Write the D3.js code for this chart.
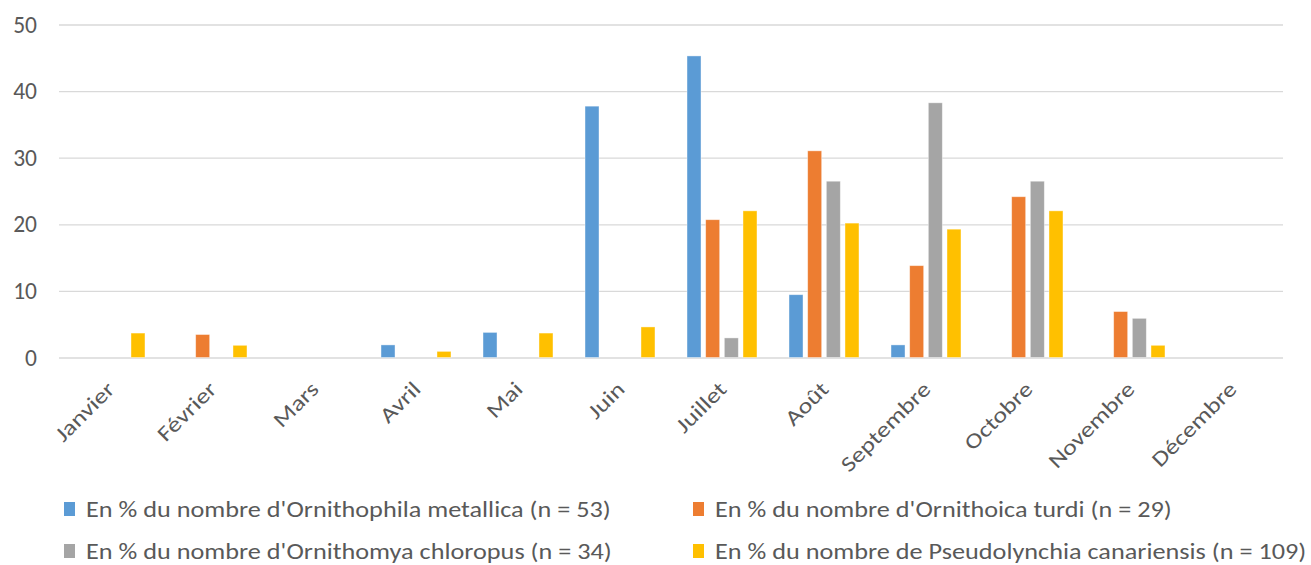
<!DOCTYPE html>
<html>
<head>
<meta charset="utf-8">
<script src="https://cdn.jsdelivr.net/npm/d3@7"></script>
<style>
  html, body { margin: 0; padding: 0; background: #fff; }
  svg { display: block; }
  text { font-family: Carlito, Calibri, Lato, "Open Sans", sans-serif; fill: #595959; }
</style>
</head>
<body>
<svg id="chart" width="1311" height="565"></svg>
<script>
// ---- data ----
const months = ["Janvier", "Février", "Mars", "Avril", "Mai", "Juin", "Juillet", "Août", "Septembre", "Octobre", "Novembre", "Décembre"];
const seriesNames = [
  "En % du nombre d'Ornithophila metallica (n = 53)",
  "En % du nombre d'Ornithoica turdi (n = 29)",
  "En % du nombre d'Ornithomya chloropus (n = 34)",
  "En % du nombre de Pseudolynchia canariensis (n = 109)"
];
const metallica   = [0, 0, 0, 1.89, 3.77, 37.74, 45.28, 9.43, 1.89, 0, 0, 0];
const turdi       = [0, 3.45, 0, 0, 0, 0, 20.69, 31.03, 13.79, 24.14, 6.90, 0];
const chloropus   = [0, 0, 0, 0, 0, 0, 2.94, 26.47, 38.24, 26.47, 5.88, 0];
const canariensis = [3.67, 1.83, 0, 0.92, 3.67, 4.59, 22.02, 20.18, 19.27, 22.02, 1.83, 0];
const yTicks = [0, 10, 20, 30, 40, 50];
const colors = ["#5B9BD5", "#ED7D31", "#A5A5A5", "#FFC000"];

const seriesValues = [metallica, turdi, chloropus, canariensis];

// ---- layout ----
const svg = d3.select("#chart");
const plot = { left: 59, right: 1283, top: 24.5, bottom: 357.5 };
const stretch = 1.22;
function widen(sel) {
  sel.each(function () {
    const w = this.getComputedTextLength();
    d3.select(this).attr("textLength", w * stretch).attr("lengthAdjust", "spacingAndGlyphs");
  });
}

const x = d3.scaleBand().domain(months).range([plot.left, plot.right])
  .paddingInner(0.314).paddingOuter(0.157);
const xs = d3.scaleBand().domain(d3.range(seriesNames.length)).range([0, x.bandwidth()])
  .paddingInner(0.25).paddingOuter(0);
const y = d3.scaleLinear().domain([0, 50]).range([plot.bottom, plot.top]);

// gridlines + y labels
const yAxis = d3.axisLeft(y).tickValues(yTicks).tickSize(-(plot.right - plot.left)).tickPadding(22);
const gy = svg.append("g").attr("transform", `translate(${plot.left},0)`).call(yAxis);
gy.select(".domain").remove();
gy.selectAll(".tick line").attr("stroke", "#D9D9D9").attr("stroke-width", 1.3);
gy.selectAll(".tick text").attr("font-size", 23.5).attr("fill", "#595959")
  .style("font-family", "Carlito, Calibri, Lato, sans-serif");

// bars
const data = [];
months.forEach((m, i) => seriesValues.forEach((vals, s) => data.push({ m, s, v: vals[i] })));
svg.append("g").selectAll("rect").data(data.filter(d => d.v > 0)).join("rect")
  .attr("x", d => x(d.m) + xs(d.s))
  .attr("width", xs.bandwidth())
  .attr("y", d => y(d.v))
  .attr("height", d => y(0) - y(d.v))
  .attr("fill", d => colors[d.s])
  .attr("stroke", "#fff").attr("stroke-opacity", 0.5).attr("stroke-width", 0.8);

// x axis labels (rotated)
const xAxis = d3.axisBottom(x).tickSize(0).tickPadding(0);
const gx = svg.append("g").attr("transform", `translate(0,${plot.bottom})`).call(xAxis);
gx.select(".domain").remove();
gx.selectAll(".tick text")
  .attr("font-size", 21.5)
  .attr("fill", "#595959")
  .style("font-family", "Carlito, Calibri, Lato, sans-serif")
  .attr("text-anchor", "end")
  .attr("dy", 0)
  .attr("y", 0)
  .attr("transform", "translate(6,33) rotate(-45)")
  .call(widen);

// legend
const legendPos = [[64, 509], [693, 509], [64, 551], [693, 551]];
const lg = svg.append("g").selectAll("g").data(seriesNames).join("g")
  .attr("transform", (d, i) => `translate(${legendPos[i][0]},${legendPos[i][1]})`);
lg.append("rect").attr("x", 0).attr("y", -7).attr("width", 11).attr("height", 14)
  .attr("fill", (d, i) => colors[i]);
lg.append("text").attr("x", 22).attr("y", 0).attr("dy", "0.35em")
  .attr("font-size", 21.5).text(d => d)
  .call(widen);
</script>
</body>
</html>
